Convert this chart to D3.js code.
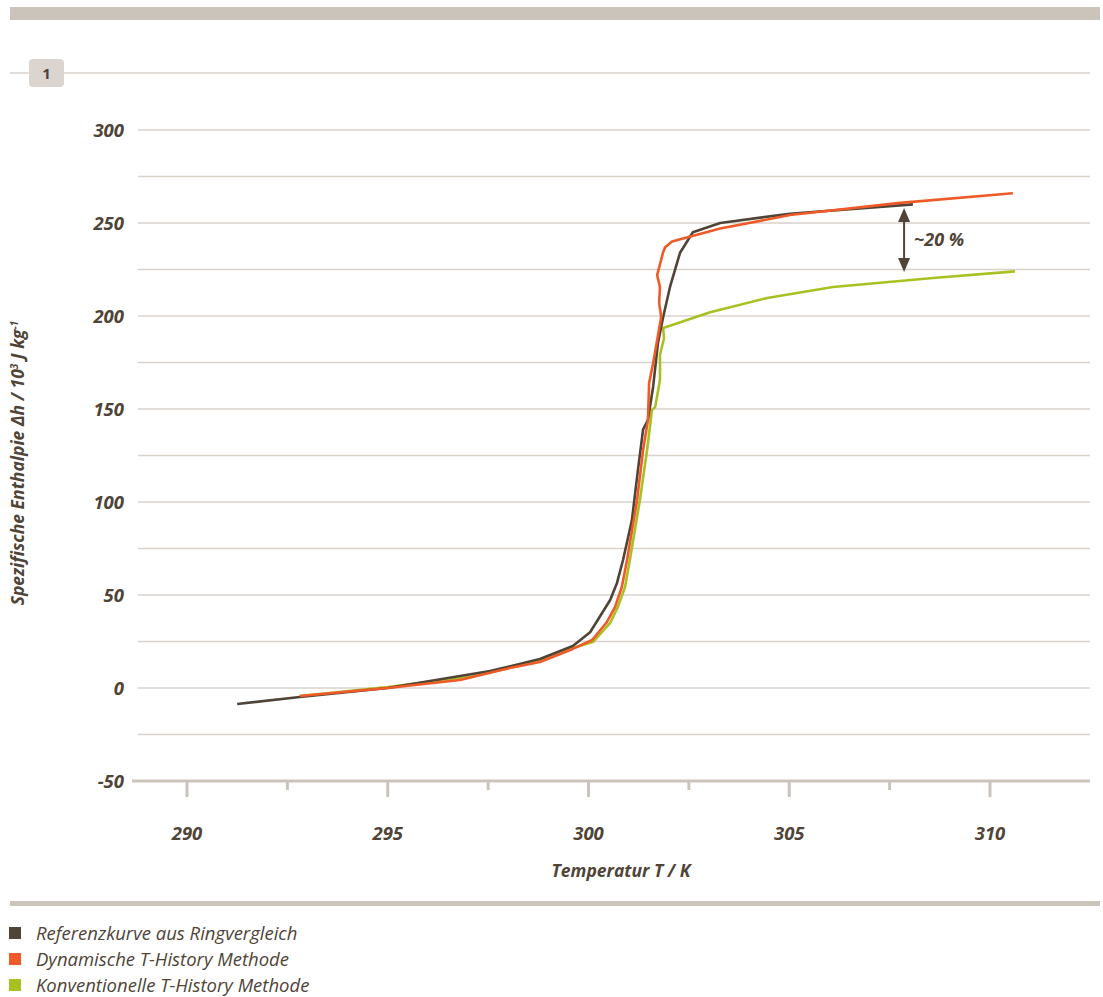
<!DOCTYPE html>
<html>
<head>
<meta charset="utf-8">
<script src="https://cdn.jsdelivr.net/npm/d3@7"></script>
<style>
  body { margin: 0; background: #fff; }
  text { font-family: "Open Sans", Lato, sans-serif; fill: #4f4437; }
</style>
</head>
<body>
<div id="chart"></div>
<script>
// Messkurven: Temperatur (K) und spezifische Enthalpie (10^3 J/kg)
const refT = [291.25, 292.81, 295.0, 297.55, 298.79, 299.61, 300.04, 300.54, 300.71, 300.86, 301.08, 301.23, 301.36, 301.48, 301.61, 301.73, 301.86, 302.03, 302.28, 302.6, 303.28, 305.02, 308.08];
const refH = [-8.6, -4.8, 0, 9.1, 15.6, 22.6, 30, 47.3, 56.5, 68.8, 90, 117, 139, 144, 162, 185.5, 199.5, 215.6, 234, 245, 250, 255, 260];

const dynT = [292.81, 295.0, 296.8, 298.04, 298.79, 299.61, 300.09, 300.46, 300.66, 300.83, 300.96, 301.21, 301.36, 301.48, 301.51, 301.61, 301.71, 301.81, 301.76, 301.78, 301.71, 301.86, 301.91, 302.08, 303.28, 305.02, 307.76, 310.57];
const dynH = [-4.3, 0, 4.3, 10.8, 14, 21, 25.8, 35.5, 43.5, 54.3, 68.8, 101, 128, 144, 164, 174.7, 187, 199.5, 207, 215.6, 222, 234.4, 237, 240, 247, 254.3, 260.8, 266];

const konT = [292.81, 295.0, 297.05, 298.79, 299.61, 300.11, 300.54, 300.73, 300.91, 301.03, 301.28, 301.46, 301.58, 301.66, 301.78, 301.78, 301.88, 301.86, 303.03, 304.45, 306.09, 308.58, 310.62];
const konH = [-4.3, 0.5, 6, 14.5, 21.5, 24.7, 35, 43.5, 54.3, 68.8, 101, 128, 149.5, 151, 165.6, 179, 188, 193.5, 202, 209.7, 215.6, 220.4, 224];

const xTicks = [290, 295, 300, 305, 310];
const xMinorTicks = [292.5, 297.5, 302.5, 307.5];
const yTicks = [-50, 0, 50, 100, 150, 200, 250, 300];
const yGrid = [-25, 0, 25, 50, 75, 100, 125, 150, 175, 200, 225, 250, 275, 300];

const arrowT = 307.86, arrowTop = 258, arrowBottom = 223.6;
const arrowLabel = "~20 %";

const seriesNames = ["Referenzkurve aus Ringvergleich", "Dynamische T-History Methode", "Konventionelle T-History Methode"];
const colors = ["#4f4437", "#f05a28", "#a9c023"];

const W = 1103, H = 997;
const svg = d3.select("#chart").append("svg")
  .attr("width", W).attr("height", H);

// Rahmenelemente
svg.append("rect").attr("x", 10).attr("y", 7).attr("width", 1090).attr("height", 13).attr("fill", "#cbc4bb");
svg.append("rect").attr("x", 10).attr("y", 901).attr("width", 1090).attr("height", 5).attr("fill", "#cbc4bb");
svg.append("line").attr("x1", 10).attr("x2", 1090).attr("y1", 73).attr("y2", 73)
  .attr("stroke", "#d8d2cb").attr("stroke-width", 1.5);
svg.append("rect").attr("x", 29).attr("y", 59).attr("width", 35).attr("height", 28).attr("rx", 4)
  .attr("fill", "#dcd5cf");
svg.append("text").attr("x", 46.5).attr("y", 79).attr("text-anchor", "middle")
  .style("font-weight", "bold").style("font-size", "15px").text("1");

// scales
const x = d3.scaleLinear().domain([290, 310]).range([187, 990]);
const y = d3.scaleLinear().domain([0, 300]).range([688, 130]);

// gridlines
svg.append("g").selectAll("line").data(yGrid).join("line")
  .attr("x1", 138).attr("x2", 1090)
  .attr("y1", d => y(d)).attr("y2", d => y(d))
  .attr("stroke", "#d8d2cb").attr("stroke-width", 1.5);

// x axis
svg.append("line").attr("x1", 132).attr("x2", 1090).attr("y1", y(-50)).attr("y2", y(-50))
  .attr("stroke", "#cbc4bb").attr("stroke-width", 3);
svg.append("g").selectAll("line").data(xTicks).join("line")
  .attr("x1", d => x(d)).attr("x2", d => x(d))
  .attr("y1", y(-50)).attr("y2", y(-50) + 16)
  .attr("stroke", "#cbc4bb").attr("stroke-width", 3);
svg.append("g").selectAll("line").data(xMinorTicks).join("line")
  .attr("x1", d => x(d)).attr("x2", d => x(d))
  .attr("y1", y(-50)).attr("y2", y(-50) + 9)
  .attr("stroke", "#cbc4bb").attr("stroke-width", 3);
svg.append("g").selectAll("text").data(xTicks).join("text")
  .attr("x", d => x(d)).attr("y", 840)
  .attr("text-anchor", "middle")
  .style("font-size", "18.5px").style("font-weight", "bold").style("font-style", "italic")
  .text(d => d);

// y labels
svg.append("g").selectAll("text").data(yTicks).join("text")
  .attr("x", 124).attr("y", d => y(d) + 7)
  .attr("text-anchor", "end")
  .style("font-size", "18.5px").style("font-weight", "bold").style("font-style", "italic")
  .text(d => d);

// axis titles
svg.append("text").attr("x", 621).attr("y", 877).attr("text-anchor", "middle")
  .style("font-size", "17.5px").style("font-weight", "bold").style("font-style", "italic")
  .text("Temperatur T / K");

const yTitle = svg.append("text")
  .attr("transform", "translate(24,463) rotate(-90)")
  .attr("text-anchor", "middle")
  .style("font-size", "17.5px").style("font-weight", "bold").style("font-style", "italic");
yTitle.append("tspan").text("Spezifische Enthalpie Δh / 10");
yTitle.append("tspan").attr("dy", -6).style("font-size", "10px").text("3");
yTitle.append("tspan").attr("dy", 6).text(" J kg");
yTitle.append("tspan").attr("dy", -6).style("font-size", "10px").text("-1");

// lines
const line = d3.line().x(d => x(d[0])).y(d => y(d[1]));
const series = [
  d3.zip(konT, konH),
  d3.zip(refT, refH),
  d3.zip(dynT, dynH)
];
const seriesColors = [colors[2], colors[0], colors[1]];
svg.append("g").selectAll("path").data(series).join("path")
  .attr("d", line)
  .attr("fill", "none")
  .attr("stroke", (d, i) => seriesColors[i])
  .attr("stroke-width", 2.6)
  .attr("stroke-linejoin", "round");

// Pfeil ~20 %
const ax = x(arrowT), ay1 = y(arrowTop), ay2 = y(arrowBottom);
svg.append("line").attr("x1", ax).attr("x2", ax).attr("y1", ay1 + 10).attr("y2", ay2 - 10)
  .attr("stroke", colors[0]).attr("stroke-width", 2);
svg.append("path").attr("d", `M${ax},${ay1} L${ax - 6},${ay1 + 14} L${ax + 6},${ay1 + 14} Z`).attr("fill", colors[0]);
svg.append("path").attr("d", `M${ax},${ay2} L${ax - 6},${ay2 - 14} L${ax + 6},${ay2 - 14} Z`).attr("fill", colors[0]);
svg.append("text").attr("x", ax + 10).attr("y", (ay1 + ay2) / 2 + 6)
  .style("font-size", "18px").style("font-weight", "bold").style("font-style", "italic")
  .text(arrowLabel);

// legend
const legend = svg.append("g").selectAll("g").data(seriesNames).join("g")
  .attr("transform", (d, i) => `translate(9,${927 + i * 26})`);
legend.append("rect").attr("width", 12).attr("height", 12).attr("fill", (d, i) => colors[i]);
legend.append("text").attr("x", 27).attr("y", 13)
  .style("font-size", "18.5px").style("font-style", "italic")
  .text(d => d);
</script>
</body>
</html>
